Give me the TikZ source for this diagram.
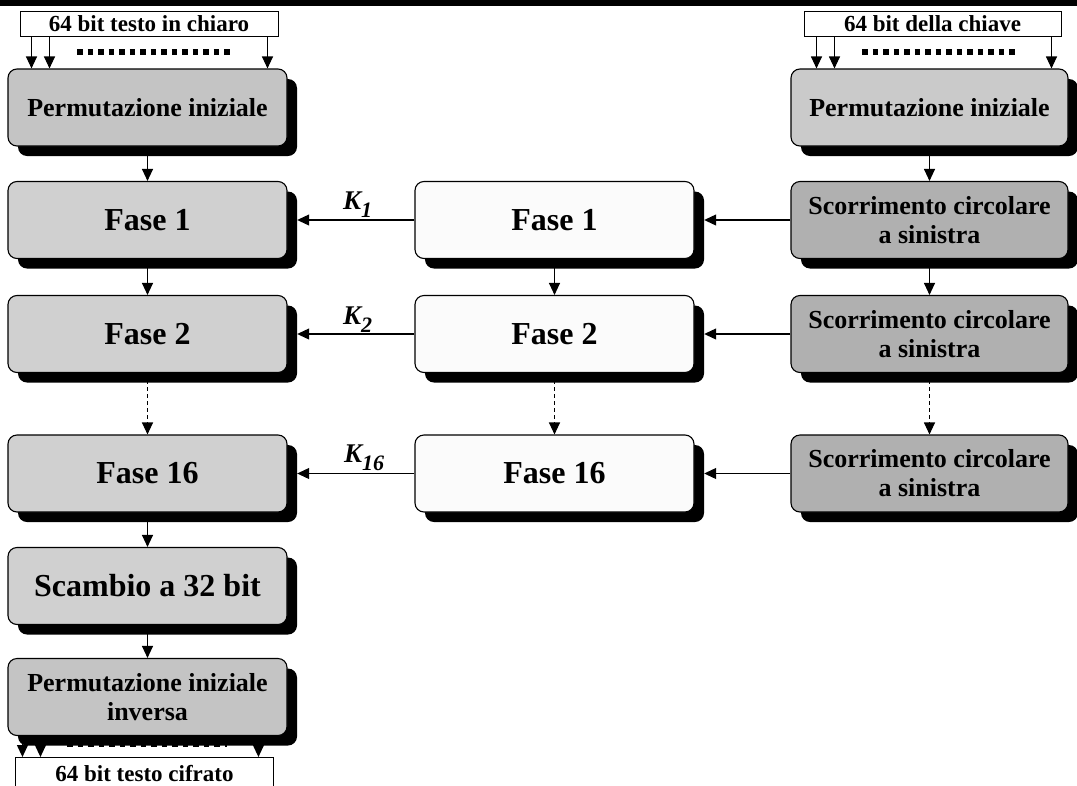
\documentclass[tikz,border=0pt]{standalone}
\usepackage{fontspec}
\setmainfont{Liberation Serif}
\usetikzlibrary{arrows.meta,calc}
\definecolor{grayA}{HTML}{C4C4C4}
\definecolor{grayB}{HTML}{D0D0D0}
\definecolor{grayC}{HTML}{CACACA}
\definecolor{grayD}{HTML}{B0B0B0}
\definecolor{grayE}{HTML}{FBFBFB}
\newcommand\shbox[8]{%
  \node[shadowbox, minimum width=#4pt, minimum height=#5pt] (#1sh) at ($(#2,#3)+(10,10)$) {};
  \node[boxbase, #7, fill=#6, minimum width=#4pt, minimum height=#5pt] (#1) at (#2,#3) {#8};}
\begin{document}
\begin{tikzpicture}[x=1pt,y=-1pt,
  boxbase/.style={draw=black, line width=1.1pt, rounded corners=9pt, inner sep=0pt, align=center},
  shadowbox/.style={fill=black, rounded corners=9pt, inner sep=0pt},
  plainbox/.style={draw=black, fill=white, line width=1pt, inner sep=0pt, font=\bfseries\fontsize{23}{25}\selectfont},
  arr/.style={line width=1.1pt, -{Triangle[length=12pt,width=11pt]}},
  darr/.style={arr, dash pattern=on 4pt off 3pt},
  dotrow/.style={line width=5.5pt, dash pattern=on 5.5pt off 5pt},
  bigtxt/.style={font=\bfseries\fontsize{32}{34}\selectfont},
  midtxt/.style={font=\bfseries\fontsize{26}{29}\selectfont},
  klabel/.style={anchor=base west, inner sep=0pt, font=\bfseries\itshape\fontsize{27}{29}\selectfont}
]
\useasboundingbox (0,0) rectangle (1077,785);
\clip (0,0) rectangle (1077,785);
\fill[black] (0,0) rectangle (1077,6);

% left column
\shbox{Lz}{147.5}{107.5}{279}{77}{grayA}{midtxt}{Permutazione iniziale}
\shbox{La}{147.5}{220}{279}{77}{grayB}{bigtxt}{Fase 1}
\shbox{Lb}{147.5}{334}{279}{77}{grayB}{bigtxt}{Fase 2}
\shbox{Lp}{147.5}{473.5}{279}{77}{grayB}{bigtxt}{Fase 16}
\shbox{Ls}{147.5}{586}{279}{77}{grayB}{bigtxt}{Scambio a 32 bit}
\shbox{Li}{147.5}{697}{279}{77}{grayA}{midtxt}{Permutazione iniziale\\inversa}

% middle column
\shbox{Ma}{554.5}{220}{279}{77}{grayE}{bigtxt}{Fase 1}
\shbox{Mb}{554.5}{334}{279}{77}{grayE}{bigtxt}{Fase 2}
\shbox{Mp}{554.5}{473.5}{279}{77}{grayE}{bigtxt}{Fase 16}

% right column
\shbox{Rz}{929.5}{107.5}{277}{77}{grayC}{midtxt}{Permutazione iniziale}
\shbox{Ra}{929.5}{220}{277}{77}{grayD}{midtxt}{Scorrimento circolare\\a sinistra}
\shbox{Rb}{929.5}{334}{277}{77}{grayD}{midtxt}{Scorrimento circolare\\a sinistra}
\shbox{Rp}{929.5}{473.5}{277}{77}{grayD}{midtxt}{Scorrimento circolare\\a sinistra}

% input / output boxes
\node[plainbox, minimum width=258pt, minimum height=25pt] (TL) at (149,23.5) {64 bit testo in chiaro};
\node[plainbox, minimum width=257pt, minimum height=25pt] (TR) at (932.5,23.5) {64 bit della chiave};
\node[plainbox, minimum width=258pt, minimum height=40pt, anchor=north west, text depth=0pt] (BL) at (15,757) {\raisebox{8pt}{64 bit testo cifrato}};

% input arrows and dot rows
\foreach \dx in {12,30,248}
  \draw[arr] ([xshift=\dx pt]TL.south west) -- ([xshift=\dx pt]TL.south west |- Lz.north);
\foreach \dx in {13,31,248}
  \draw[arr] ([xshift=\dx pt]TR.south west) -- ([xshift=\dx pt]TR.south west |- Rz.north);
\foreach \dx in {15,33,251}
  \draw[arr] ([xshift=\dx pt]Li.south west) -- ([xshift=\dx pt]Li.south west |- BL.north);
\draw[dotrow] (77,52) -- (233,52);
\draw[dotrow] (862,52) -- (1018,52);
\draw[dotrow] (67,744) -- (227,744);

% vertical flow
\draw[arr] (Lz.south) -- (La.north);
\draw[arr] (La.south) -- (Lb.north);
\draw[darr] (Lb.south) -- (Lp.north);
\draw[arr] (Lp.south) -- (Ls.north);
\draw[arr] (Ls.south) -- (Li.north);
\draw[arr] (Ma.south) -- (Mb.north);
\draw[darr] (Mb.south) -- (Mp.north);
\draw[arr] (Rz.south) -- (Ra.north);
\draw[arr] (Ra.south) -- (Rb.north);
\draw[darr] (Rb.south) -- (Rp.north);

% horizontal flow
\draw[arr] (Ra.west) -- (Ra.west -| Mash.east);
\draw[arr] (Rb.west) -- (Rb.west -| Mbsh.east);
\draw[arr] (Rp.west) -- (Rp.west -| Mpsh.east);
\draw[arr] (Ma.west) -- (Ma.west -| Lash.east);
\draw[arr] (Mb.west) -- (Mb.west -| Lbsh.east);
\draw[arr] (Mp.west) -- (Mp.west -| Lpsh.east);

% key labels
\node[klabel] (k1) at (343,209) {K\raisebox{-8pt}{\fontsize{22}{22}\selectfont 1}};
\node[klabel] (k2) at (343,324) {K\raisebox{-8pt}{\fontsize{22}{22}\selectfont 2}};
\node[klabel] (k16) at (344,462) {K\raisebox{-8pt}{\fontsize{22}{22}\selectfont 16}};
\end{tikzpicture}
\end{document}
